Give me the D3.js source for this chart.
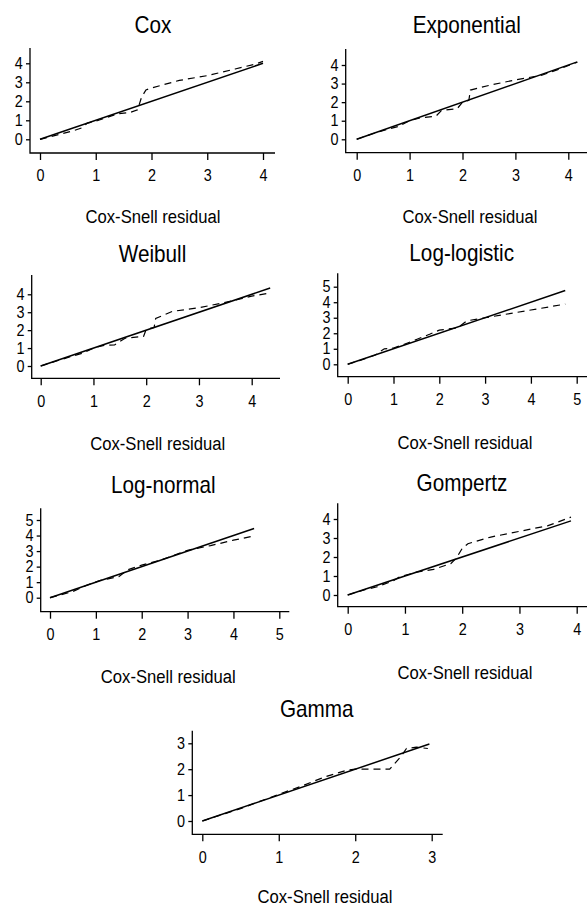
<!DOCTYPE html>
<html>
<head>
<meta charset="utf-8">
<script src="https://cdn.jsdelivr.net/npm/d3@7"></script>
<style>
    body { margin: 0; background: #fff; }
    svg { display: block; }
    text { font-family: "Liberation Sans", Arial, sans-serif; fill: #000; }
</style>
</head>
<body>
<div class="graph-goes-here"></div>
<script>
// panel titles
var models = ["Cox", "Exponential", "Weibull", "Log-logistic", "Log-normal", "Gompertz", "Gamma"];

// largest Cox-Snell residual of each model (end of the 45 degree reference line)
var maxResidual = [4.0, 4.17, 4.35, 4.75, 4.45, 3.9, 2.97];

// tick labels of each panel
var xTicks = [[0, 1, 2, 3, 4], [0, 1, 2, 3, 4], [0, 1, 2, 3, 4], [0, 1, 2, 3, 4, 5], [0, 1, 2, 3, 4, 5], [0, 1, 2, 3, 4], [0, 1, 2, 3]];
var yTicks = [[0, 1, 2, 3, 4], [0, 1, 2, 3, 4], [0, 1, 2, 3, 4], [0, 1, 2, 3, 4, 5], [0, 1, 2, 3, 4, 5], [0, 1, 2, 3, 4], [0, 1, 2, 3]];

// Nelson-Aalen cumulative hazard of the residuals (dashed)
var coxHazard = [[0, 0], [0.2, 0.15], [0.4, 0.3], [0.6, 0.45], [0.75, 0.6], [0.85, 0.85], [1.0, 0.95], [1.2, 1.15], [1.4, 1.35], [1.6, 1.4], [1.75, 1.55], [1.82, 2.2], [1.9, 2.6], [2.0, 2.7], [2.5, 3.1], [3.0, 3.35], [3.5, 3.7], [3.85, 3.95], [4.0, 4.1]];
var exponentialHazard = [[0, 0], [0.3, 0.3], [0.6, 0.55], [0.8, 0.7], [1.0, 1.0], [1.2, 1.15], [1.5, 1.25], [1.6, 1.55], [1.9, 1.65], [2.0, 2.0], [2.12, 2.1], [2.15, 2.65], [2.5, 2.9], [3.0, 3.2], [3.5, 3.45], [3.8, 3.75], [4.17, 4.15]];
var weibullHazard = [[0, 0], [0.3, 0.28], [0.6, 0.55], [0.8, 0.72], [1.0, 1.0], [1.2, 1.15], [1.4, 1.17], [1.6, 1.55], [1.95, 1.65], [2.0, 2.05], [2.15, 2.15], [2.18, 2.65], [2.5, 3.05], [3.0, 3.25], [3.5, 3.55], [3.8, 3.75], [4.0, 3.9], [4.3, 4.05]];
var logLogisticHazard = [[0, 0], [0.3, 0.28], [0.6, 0.6], [0.8, 1.0], [1.0, 1.05], [1.2, 1.25], [1.5, 1.6], [1.8, 1.95], [2.0, 2.2], [2.4, 2.35], [2.6, 2.8], [3.0, 3.0], [3.4, 3.2], [4.0, 3.5], [4.4, 3.7], [4.75, 3.88]];
var logNormalHazard = [[0, 0], [0.5, 0.4], [0.8, 0.8], [1.1, 1.12], [1.5, 1.35], [1.7, 1.8], [2.0, 2.1], [2.4, 2.4], [3.0, 3.05], [3.5, 3.35], [4.0, 3.7], [4.45, 3.97]];
var gompertzHazard = [[0, 0], [0.3, 0.28], [0.5, 0.42], [0.8, 0.75], [0.9, 0.95], [1.2, 1.2], [1.5, 1.35], [1.8, 1.65], [1.9, 1.95], [2.0, 2.45], [2.1, 2.7], [2.5, 3.05], [3.0, 3.35], [3.5, 3.65], [3.9, 4.1]];
var gammaHazard = [[0, 0], [0.5, 0.48], [1.0, 1.03], [1.3, 1.35], [1.6, 1.7], [1.9, 1.97], [2.0, 2.0], [2.45, 2.0], [2.6, 2.5], [2.67, 2.8], [2.8, 2.85], [2.95, 2.8]];

var hazards = [coxHazard, exponentialHazard, weibullHazard, logLogisticHazard, logNormalHazard, gompertzHazard, gammaHazard];

// pixel layout of each panel: axis lines, tick 0 / last tick positions, title and label spots
var layout = [
    { ax: 30, ay: 153, x0: 40, x1: 263, y0: 139.3, y1: 63.3, xEnd: 275, yTop: 48, tx: 153, ty: 33, lx: 153, ly: 223 },
    { ax: 345.7, ay: 152.7, x0: 356.7, x1: 568.3, y0: 139.3, y1: 65, xEnd: 587, yTop: 49, tx: 466.7, ty: 33, lx: 470, ly: 223 },
    { ax: 31.7, ay: 378.3, x0: 40.7, x1: 251.7, y0: 366, y1: 294.3, xEnd: 280, yTop: 275, tx: 152.5, ty: 262, lx: 157.7, ly: 450 },
    { ax: 337.7, ay: 376.7, x0: 347.7, x1: 576.7, y0: 364.3, y1: 286.7, xEnd: 587, yTop: 273.3, tx: 461.7, ty: 260.7, lx: 465, ly: 449 },
    { ax: 40.7, ay: 611.7, x0: 50, x1: 279.3, y0: 597.7, y1: 520, xEnd: 289.3, yTop: 508.3, tx: 163.3, ty: 493.3, lx: 168.3, ly: 682.7 },
    { ax: 337.7, ay: 606.7, x0: 347.7, x1: 576.7, y0: 595, y1: 519, xEnd: 587, yTop: 503.3, tx: 462, ty: 490.7, lx: 465, ly: 679.3 },
    { ax: 192.3, ay: 834.3, x0: 202.3, x1: 431.7, y0: 821, y1: 743.3, xEnd: 442.7, yTop: 730.7, tx: 316.7, ty: 716.7, lx: 325, ly: 903.3 }
];

var width = 587, height = 909;

var svg = d3.select(".graph-goes-here")
    .append("svg")
    .attr("width", width)
    .attr("height", height);

models.forEach((name, i) => {
    var L = layout[i];
    var xt = xTicks[i], yt = yTicks[i];

    var x = d3.scaleLinear().domain([0, xt[xt.length - 1]]).range([L.x0, L.x1]);
    var y = d3.scaleLinear().domain([0, yt[yt.length - 1]]).range([L.y0, L.y1]);

    var g = svg.append("g");

    // x axis
    var xAxis = g.append("g")
        .attr("transform", "translate(0," + L.ay + ")")
        .call(d3.axisBottom(x).tickValues(xt).tickSize(7).tickSizeOuter(0).tickPadding(10).tickFormat(d3.format("d")))
    xAxis.select(".domain").remove()
    xAxis.selectAll("line").attr("stroke-width", 1.3)
    xAxis.selectAll("text").attr("font-size", 16).attr("transform", "scale(0.9,1)")

    // y axis
    var yAxis = g.append("g")
        .attr("transform", "translate(" + L.ax + ",0)")
        .call(d3.axisLeft(y).tickValues(yt).tickSize(4).tickSizeOuter(0).tickPadding(4).tickFormat(d3.format("d")))
    yAxis.select(".domain").remove()
    yAxis.selectAll("line").attr("stroke-width", 1.3)
    yAxis.selectAll("text").attr("font-size", 16).attr("transform", "scale(0.9,1)")

    // axis lines
    g.append("path")
        .attr("fill", "none")
        .attr("stroke", "black")
        .attr("stroke-width", 1.3)
        .attr("d", "M" + L.ax + "," + L.yTop + "V" + L.ay + "H" + L.xEnd)

    var line = d3.line()
        .x(d => x(d[0]))
        .y(d => y(d[1]))

    // 45 degree reference line
    g.append("path")
        .datum([[0, 0], [maxResidual[i], maxResidual[i]]])
        .attr("fill", "none")
        .attr("stroke", "black")
        .attr("stroke-width", 1.5)
        .attr("d", line)

    // cumulative hazard
    g.append("path")
        .datum(hazards[i])
        .attr("fill", "none")
        .attr("stroke", "black")
        .attr("stroke-width", 1.2)
        .attr("stroke-dasharray", "7,5")
        .attr("d", line)

    g.append("text")
        .attr("transform", "translate(" + L.tx + "," + L.ty + ") scale(0.9,1)")
        .attr("text-anchor", "middle")
        .attr("font-size", 23)
        .text(name)

    g.append("text")
        .attr("transform", "translate(" + L.lx + "," + L.ly + ") scale(0.9,1)")
        .attr("text-anchor", "middle")
        .attr("font-size", 18.5)
        .text("Cox-Snell residual")
});
</script>
</body>
</html>
